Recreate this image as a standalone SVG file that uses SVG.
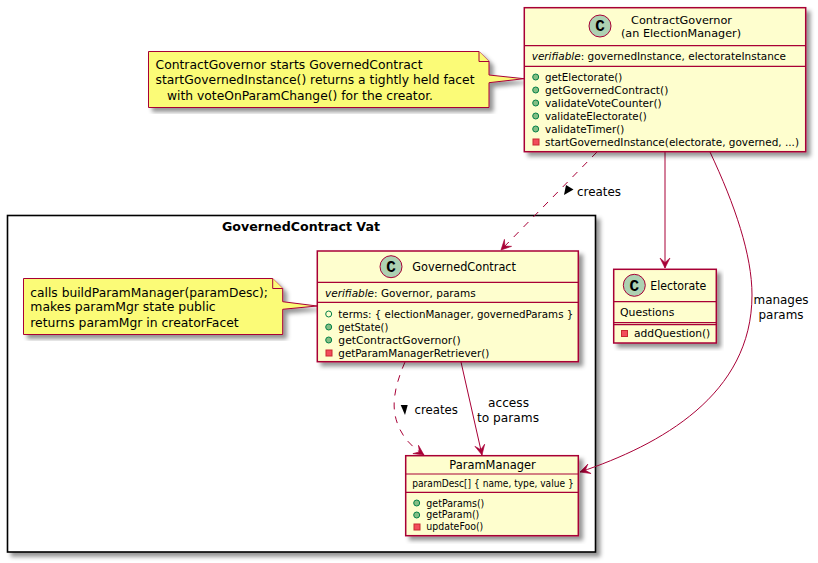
<svg xmlns="http://www.w3.org/2000/svg" width="818" height="563" viewBox="0 0 818 563">
<style>
text{font-family:"DejaVu Sans","Liberation Sans",sans-serif;fill:#000;font-size:11px;white-space:pre}
.t{font-size:12.5px}
.t2{font-size:11.1px}
.s{font-size:10.3px}
.n{font-size:12.5px}
.l{font-size:13px}
.b{fill:#FEFECE;stroke:#A80036;stroke-width:1.5;filter:url(#s)}
.d{stroke:#A80036;stroke-width:1.2;fill:none}
.note{fill:#FBFB77;stroke:#A80036;stroke-width:1;filter:url(#s)}
.fold{fill:#FBFB77;stroke:#A80036;stroke-width:1}
.ic{fill:#ADD1B2;stroke:#A80036;stroke-width:1}
.c{font-size:16px;font-weight:bold;text-anchor:middle;font-family:"Liberation Mono",monospace}
.pub{fill:#84BE84;stroke:#038048;stroke-width:1}
.pubo{fill:none;stroke:#038048;stroke-width:1}
.pri{fill:#F24D5C;stroke:#C82930;stroke-width:1}
.e{stroke:#A80036;stroke-width:1;fill:none;marker-end:url(#a)}
.da{stroke-dasharray:7 7}
</style>
<defs>
<filter id="s" x="-5%" y="-5%" width="112%" height="115%"><feDropShadow dx="4" dy="4" stdDeviation="2" flood-color="#000" flood-opacity="0.42"/></filter>
<marker id="a" markerUnits="userSpaceOnUse" markerWidth="14" markerHeight="14" viewBox="-11 -7 14 14" refX="0" refY="0" orient="auto"><path d="M0,0 L-10,-5 L-5.5,0 L-10,5 Z" fill="#A80036" stroke="#A80036" stroke-width="0.6"/></marker>
</defs>

<g id="package-vat">
<rect x="7.5" y="215.5" width="588" height="336.5" fill="#fff" stroke="#000" stroke-width="1.6" filter="url(#s)"/>
<text x="222" y="231" font-weight="bold" style="font-size:13px" textLength="158" lengthAdjust="spacingAndGlyphs">GovernedContract Vat</text>
</g>

<g id="connectors">
<path class="e da" d="M597,152 L501,250"/>
<path class="e" d="M665,152 L665,268"/>
<path class="e" d="M710,152 C735,205 752,255 752,295 C752,395 660,445 580,472"/>
<path class="e da" d="M405,362 C392,392 392,410 398,425 C403,438 412,447 424,455"/>
<path class="e" d="M461,362 L482,455"/>
<path d="M566,185 L573.5,189.5 L564,195 Z" fill="#000"/>
<text class="l" x="577" y="196" textLength="44" lengthAdjust="spacingAndGlyphs">creates</text>
<path d="M400.7,405 L407.7,405 L405,415 Z" fill="#000"/>
<text class="l" x="414.5" y="414" textLength="43.5" lengthAdjust="spacingAndGlyphs">creates</text>
<text class="l" x="488" y="407" textLength="41" lengthAdjust="spacingAndGlyphs">access</text>
<text class="l" x="477" y="422" textLength="62" lengthAdjust="spacingAndGlyphs">to params</text>
<text class="l" x="753.5" y="304" textLength="55" lengthAdjust="spacingAndGlyphs">manages</text>
<text class="l" x="758.5" y="319" textLength="45" lengthAdjust="spacingAndGlyphs">params</text>
</g>

<g id="note-governor">
<path class="note" d="M148.5,51.5 H479 L489,61.5 V75 L524,78.7 L489,82.7 V107.5 H148.5 Z"/>
<path class="fold" d="M479,51.5 V61.5 H489"/>
<text class="n" x="155.5" y="69" textLength="267" lengthAdjust="spacingAndGlyphs">ContractGovernor starts GovernedContract</text>
<text class="n" x="155.5" y="84" textLength="319" lengthAdjust="spacingAndGlyphs">startGovernedInstance() returns a tightly held facet</text>
<text class="n" x="167" y="99.5" textLength="266" lengthAdjust="spacingAndGlyphs">with voteOnParamChange() for the creator.</text>
</g>

<g id="class-contract-governor">
<rect class="b" x="524.3" y="7.7" width="281.4" height="144"/>
<path class="d" d="M524.3,45.7 H805.7 M524.3,66.3 H805.7"/>
<circle class="ic" cx="600" cy="26" r="11"/>
<text class="c" x="600" y="31">C</text>
<text class="t2" x="631" y="24" textLength="101" lengthAdjust="spacingAndGlyphs">ContractGovernor</text>
<text class="t2" x="621" y="37" textLength="120" lengthAdjust="spacingAndGlyphs">(an ElectionManager)</text>
<text x="531.7" y="59.5" textLength="254.3" lengthAdjust="spacingAndGlyphs"><tspan font-style="italic">verifiable</tspan>: governedInstance, electorateInstance</text>
<circle class="pub" cx="535.7" cy="77" r="3"/>
<text x="545" y="81" textLength="77.3" lengthAdjust="spacingAndGlyphs">getElectorate()</text>
<circle class="pub" cx="535.7" cy="90" r="3"/>
<text x="545" y="94" textLength="123.3" lengthAdjust="spacingAndGlyphs">getGovernedContract()</text>
<circle class="pub" cx="535.7" cy="103" r="3"/>
<text x="545" y="107" textLength="116.7" lengthAdjust="spacingAndGlyphs">validateVoteCounter()</text>
<circle class="pub" cx="535.7" cy="116" r="3"/>
<text x="545" y="120" textLength="101.7" lengthAdjust="spacingAndGlyphs">validateElectorate()</text>
<circle class="pub" cx="535.7" cy="129" r="3"/>
<text x="545" y="133" textLength="79.3" lengthAdjust="spacingAndGlyphs">validateTimer()</text>
<rect class="pri" x="533" y="139" width="6" height="6"/>
<text x="545" y="146" textLength="254" lengthAdjust="spacingAndGlyphs">startGovernedInstance(electorate, governed, ...)</text>
</g>

<g id="note-governed">
<path class="note" d="M23.5,278.5 H272.7 L282.7,288.5 V301.7 L317,306 L282.7,309.3 V334.5 H23.5 Z"/>
<path class="fold" d="M272.7,278.5 V288.5 H282.7"/>
<text class="n" x="30.3" y="296.5" textLength="237.7" lengthAdjust="spacingAndGlyphs">calls buildParamManager(paramDesc);</text>
<text class="n" x="30.3" y="311" textLength="185.4" lengthAdjust="spacingAndGlyphs">makes paramMgr state public</text>
<text class="n" x="30.3" y="326.5" textLength="208.4" lengthAdjust="spacingAndGlyphs">returns paramMgr in creatorFacet</text>
</g>

<g id="class-governed-contract">
<rect class="b" x="317.3" y="251" width="261" height="110.7"/>
<path class="d" d="M317.3,282.3 H578.3 M317.3,302.3 H578.3"/>
<circle class="ic" cx="391" cy="266.7" r="11"/>
<text class="c" x="391" y="272">C</text>
<text class="t" x="412.3" y="271" textLength="103.7" lengthAdjust="spacingAndGlyphs">GovernedContract</text>
<text x="325" y="297" textLength="150.7" lengthAdjust="spacingAndGlyphs"><tspan font-style="italic">verifiable</tspan>: Governor, params</text>
<circle class="pubo" cx="328.7" cy="314" r="3"/>
<text x="338.3" y="318.3" textLength="235" lengthAdjust="spacingAndGlyphs">terms: { electionManager, governedParams }</text>
<circle class="pub" cx="328.7" cy="327" r="3"/>
<text x="338.3" y="331" textLength="50" lengthAdjust="spacingAndGlyphs">getState()</text>
<circle class="pub" cx="328.7" cy="340" r="3"/>
<text x="338.3" y="344.3" textLength="122.4" lengthAdjust="spacingAndGlyphs">getContractGovernor()</text>
<rect class="pri" x="326" y="350" width="6" height="6"/>
<text x="338.3" y="357" textLength="151" lengthAdjust="spacingAndGlyphs">getParamManagerRetriever()</text>
</g>

<g id="class-electorate">
<rect class="b" x="613.7" y="269.3" width="102.6" height="73.7"/>
<path class="d" d="M613.7,301.7 H716.3 M613.7,322.7 H716.3 M613.7,324.7 H716.3"/>
<circle class="ic" cx="634.3" cy="285.3" r="11"/>
<text class="c" x="634.3" y="290.5">C</text>
<text class="t" x="650.3" y="290" textLength="56" lengthAdjust="spacingAndGlyphs">Electorate</text>
<text x="620" y="315.7" textLength="54.3" lengthAdjust="spacingAndGlyphs">Questions</text>
<rect class="pri" x="621.5" y="330.5" width="6" height="6"/>
<text x="634" y="336.7" textLength="76.3" lengthAdjust="spacingAndGlyphs">addQuestion()</text>
</g>

<g id="class-param-manager">
<rect class="b" x="405.7" y="455.7" width="172.6" height="80"/>
<path class="d" d="M405.7,474 H578.3 M405.7,492.3 H578.3"/>
<text class="t" x="449.3" y="469" textLength="86.4" lengthAdjust="spacingAndGlyphs">ParamManager</text>
<text x="412.3" y="487" textLength="161.4" lengthAdjust="spacingAndGlyphs">paramDesc[] { name, type, value }</text>
<circle class="pub" cx="416.7" cy="503" r="3"/>
<text class="s" x="426.3" y="506.5" textLength="58" lengthAdjust="spacingAndGlyphs">getParams()</text>
<circle class="pub" cx="416.7" cy="515" r="3"/>
<text class="s" x="426.3" y="518" textLength="53" lengthAdjust="spacingAndGlyphs">getParam()</text>
<rect class="pri" x="414" y="524" width="6" height="6"/>
<text class="s" x="426.3" y="530" textLength="57" lengthAdjust="spacingAndGlyphs">updateFoo()</text>
</g>
</svg>
